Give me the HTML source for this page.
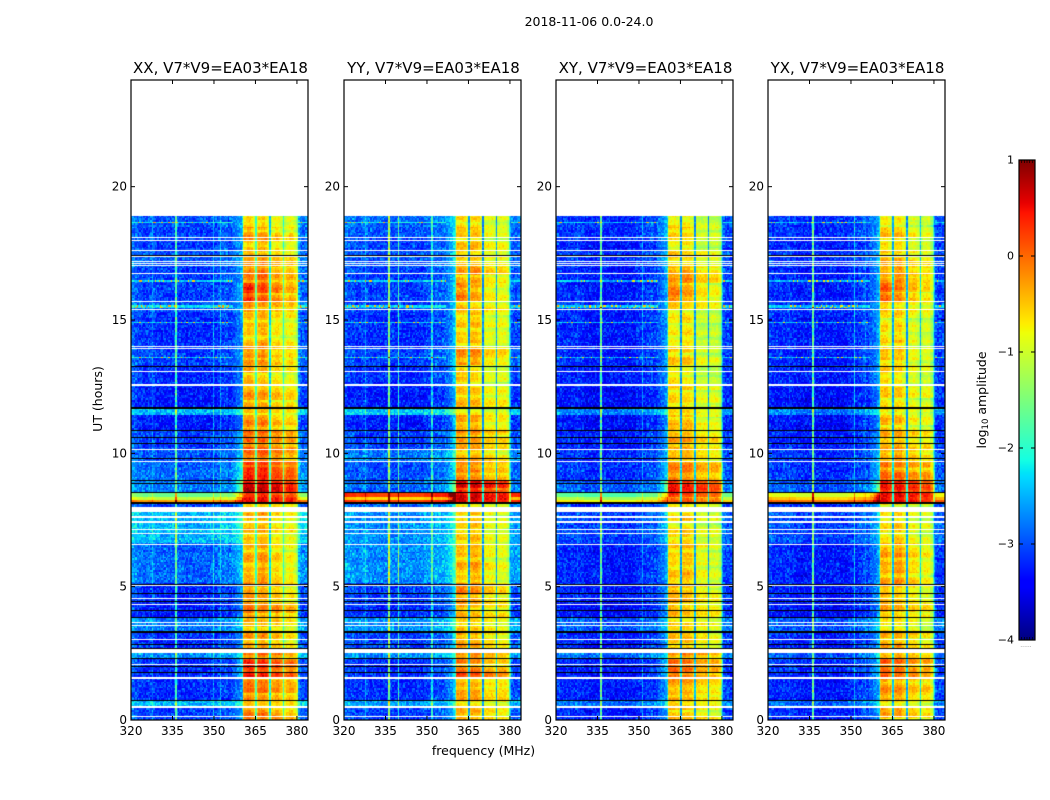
<!DOCTYPE html>
<html lang="en">
<head>
<meta charset="utf-8">
<title>2018-11-06 0.0-24.0</title>
<style>
  html, body { margin: 0; padding: 0; background: #fff; }
  body { width: 1050px; height: 800px; overflow: hidden; position: relative; font-family: "DejaVu Sans", "Liberation Sans", sans-serif; }
  canvas { position: absolute; display: block; }
  svg { position: absolute; left: 0; top: 0; }
  text { font-family: "DejaVu Sans", "Liberation Sans", sans-serif; fill: #000; }
</style>
</head>
<body>
<div id="plots"></div>
<svg id="chart" width="1050" height="800" viewBox="0 0 1050 800"></svg>
<script>
// ---- labels and ticks ----
const figureTitle = "2018-11-06 0.0-24.0";
const panelTitles = ["XX, V7*V9=EA03*EA18", "YY, V7*V9=EA03*EA18", "XY, V7*V9=EA03*EA18", "YX, V7*V9=EA03*EA18"];
const xTickValues = [320, 335, 350, 365, 380];
const yTickValues = [0, 5, 10, 15, 20];
const colorTickValues = [1, 0, -1, -2, -3, -4];

// ---- time blocks: lower edge of each block in UT hours (top block begins at dataTopHour) ----
const dataTopHour = 18.9;
const blockStarts = [18.5,18.0,17.6,17.4,17.0,16.4,15.7,15.3,14.0,13.3,12.5,11.7,11.45,10.9,10.1,9.7,9.0,8.5,8.36,8.28,8.15,7.8,6.6,5.1,4.4,3.8,3.3,2.65,2.3,1.8,1.6,0.75,0.5,0.15,0];

// ---- block level offsets (tenths of log10 amplitude): outside the bright band / inside it ----
const xxLow  = [1,0,0,1,1,0,0,1,-1,0,-1,-2,6,-2,0,1,2,3,15,20,28,0,6,2,-1,-2,3,-1,4,-1,-1,-1,6,0,0];
const xxBand = [1,3,2,3,3,5,7,4,2,4,2,3,2,4,6,6,9,13,12,12,11,1,2,2,3,5,2,3,6,8,10,5,2,4,5];
const yyLow  = [2,1,0,1,1,0,0,0,-1,0,-1,-2,7,-2,0,3,1,2,33,25,33,2,4,4,0,-1,4,0,4,-1,-1,-1,5,0,0];
const yyBand = [1,2,2,2,2,3,3,2,2,4,1,2,1,3,4,3,5,12,14,14,14,1,2,2,4,3,2,3,5,5,7,3,2,3,4];
const xyLow  = [0,0,-1,0,0,-1,-1,0,-1,-1,-1,-2,4,-2,-1,0,0,2,14,19,24,0,1,-1,-1,-2,2,-1,3,-1,-1,-1,3,-1,-1];
const xyBand = [1,2,1,2,2,4,5,2,1,2,1,2,1,3,4,4,6,12,10,10,10,1,2,2,3,4,2,3,5,7,8,4,2,3,4];
const yxLow  = [0,0,-1,0,0,-1,-1,0,-1,-1,-1,-2,4,-2,-1,0,0,2,22,26,31,0,1,-1,-1,-2,2,-1,2,0,-1,-1,3,-1,-1];
const yxBand = [0,2,1,2,2,4,5,2,1,2,1,1,1,2,3,4,6,12,13,12,12,1,1,3,2,3,1,3,4,6,7,4,1,3,3];

// per-block shift of each of the four band segments (tenths of log10 amplitude)
const bandSegmentShift = [
[0,0,-1,-1],[1,1,-1,-1],[0,1,-1,-1],[1,0,0,-1],[1,1,0,0],[1,2,0,0],[3,1,-1,-2],[1,0,0,0],[0,1,-1,-1],
[1,1,-1,-1],[1,0,-1,-1],[1,1,0,0],[0,0,0,0],[1,1,-1,-1],[1,1,0,0],[0,1,0,-1],[1,1,0,0],[1,1,1,0],
[0,0,0,0],[0,0,0,0],[0,0,0,0],[0,0,0,0],[0,1,-1,-1],[1,2,0,-1],[2,1,0,-1],[1,0,0,0],[0,0,0,-1],
[1,1,0,-1],[0,1,1,0],[2,1,0,0],[2,1,1,0],[1,1,0,0],[0,0,0,0],[1,1,0,-1],[1,0,1,0]];

// ---- channel spectra, 0.5 MHz bins from 320 MHz (tenths of log10 amplitude) ----
const xxSpectrum = [
-28,-28,-29,-29,-30,-30,-30,-30,-30,-31,
-31,-31,-30,-30,-30,-27,-30,-31,-31,-31,
-31,-31,-31,-31,-31,-31,-31,-31,-31,-31,
-31,-31,-18,-30,-31,-31,-31,-31,-31,-31,
-32,-31,-31,-31,-31,-31,-31,-31,-31,-31,
-31,-31,-31,-31,-31,-31,-31,-31,-31,-25,
-31,-31,-30,-30,-25,-30,-30,-29,-29,-29,
-31,-30,-30,-29,-29,-28,-28,-27,-27,-26,
-24,-10,-8,-8,-7,-7,-7,-8,-9,-11,
-20,-10,-8,-8,-7,-7,-7,-8,-9,-12,
-24,-11,-9,-9,-8,-8,-8,-9,-10,-12,
-21,-12,-10,-10,-9,-9,-9,-10,-11,-13,
-15,-26,-28,-29,-29,-29,-29,-28];
const yySpectrum = [
-29,-29,-30,-30,-30,-30,-30,-30,-30,-31,
-31,-31,-30,-30,-30,-26,-30,-31,-31,-31,
-31,-31,-31,-31,-31,-31,-31,-31,-31,-31,
-31,-31,-14,-30,-31,-31,-31,-31,-31,-19,
-31,-31,-31,-31,-31,-31,-31,-31,-31,-31,
-31,-31,-31,-31,-31,-31,-31,-31,-30,-30,
-30,-30,-30,-21,-30,-30,-29,-29,-29,-29,
-30,-29,-29,-28,-28,-27,-27,-26,-25,-23,
-20,-9,-8,-8,-8,-8,-8,-9,-10,-12,
-27,-10,-8,-8,-8,-8,-8,-9,-10,-12,
-28,-11,-10,-10,-10,-10,-10,-10,-11,-13,
-27,-11,-10,-10,-10,-10,-10,-11,-12,-21,
-27,-29,-30,-30,-30,-30,-29,-29];
const xySpectrum = [
-30,-30,-30,-31,-31,-31,-31,-31,-31,-31,
-31,-31,-31,-31,-31,-29,-31,-31,-31,-31,
-32,-32,-32,-32,-32,-32,-32,-32,-32,-32,
-32,-32,-16,-31,-32,-32,-32,-32,-32,-32,
-32,-32,-32,-32,-32,-32,-32,-32,-32,-32,
-32,-32,-32,-32,-32,-32,-32,-32,-31,-31,
-31,-31,-25,-31,-31,-30,-30,-30,-30,-29,
-31,-30,-30,-29,-28,-28,-27,-27,-26,-25,
-22,-10,-9,-9,-9,-9,-9,-10,-10,-12,
-27,-10,-9,-9,-9,-9,-9,-10,-11,-12,
-27,-11,-10,-11,-11,-11,-11,-11,-11,-13,
-27,-12,-11,-11,-11,-11,-11,-12,-13,-19,
-28,-29,-30,-30,-30,-30,-30,-29];
const yxSpectrum = [
-30,-30,-30,-31,-31,-31,-31,-31,-31,-31,
-31,-31,-31,-31,-31,-29,-31,-31,-31,-31,
-32,-32,-32,-32,-32,-32,-32,-32,-32,-32,
-32,-32,-16,-31,-32,-32,-32,-32,-32,-32,
-32,-32,-32,-32,-32,-32,-32,-32,-32,-32,
-32,-32,-32,-32,-32,-32,-32,-32,-31,-31,
-31,-31,-23,-31,-31,-30,-30,-30,-30,-29,
-27,-30,-30,-29,-28,-28,-27,-27,-26,-25,
-22,-10,-8,-8,-8,-8,-8,-10,-10,-12,
-26,-10,-8,-8,-8,-8,-8,-10,-11,-12,
-27,-11,-9,-10,-9,-9,-10,-10,-11,-13,
-25,-12,-10,-10,-10,-10,-10,-12,-13,-20,
-28,-29,-30,-30,-30,-30,-30,-29];

// channels next to the band pick up the excess of strong band levels (first shoulder channel = 74)
const shoulderWeights = [0.1, 0.2, 0.3, 0.5, 0.7, 0.8, 0.9];
// narrow notches between the four band segments, channel numbers
const notchChannels = [90, 100, 110];

// ---- flagged intervals in UT hours [from, to] ----
const whiteFlags = [[18.07,18.12],[17.97,18.02],[17.6,17.65],[17.36,17.4],[17.17,17.22],[17.1,17.14],[17.0,17.05],[16.72,16.77],[15.67,15.72],[15.36,15.42],[14.0,14.05],[13.92,13.97],[13.05,13.1],[12.53,12.6],[10.12,10.17],[9.66,9.71],[7.8,7.98],[7.57,7.64],[7.38,7.45],[7.12,7.17],[6.98,7.03],[6.56,6.61],[5.03,5.09],[4.53,4.58],[4.32,4.37],[3.62,3.66],[3.54,3.58],[3.0,3.05],[2.5,2.65],[2.07,2.11],[1.53,1.63],[0.44,0.54],[0.1,0.16]];
const blackFlags = [[17.4,17.45],[13.22,13.27],[11.66,11.74],[10.84,10.9],[10.57,10.61],[10.34,10.38],[9.78,9.82],[8.97,9.01],[8.84,8.88],[8.5,8.54],[8.08,8.17],[5.08,5.12],[4.72,4.76],[4.42,4.46],[4.08,4.12],[3.82,3.86],[3.28,3.35],[2.81,2.85],[2.65,2.68],[2.3,2.34],[1.98,2.02],[1.76,1.8],[0.71,0.75]];

// rows with narrowband interference speckle, UT hours
const spurHours = [18.65, 18.5, 16.47, 15.55, 15.45, 14.9, 13.62];

// fixed residual tables (tenths of log10 amplitude) estimated from the speckled texture
const speckleResiduals = [
-3,1,-2,4,0,-4,2,-1,5,-3,0,3,-2,-4,1,6,-1,2,-3,0,
4,-2,-3,1,3,-4,0,2,-1,5,-2,-3,7,0,-1,3,-4,1,-2,2,
0,-3,4,-1,-2,5,1,-4,0,3,-2,-1,2,-3,6,0,-4,1,3,-2,
-1,4,-3,0,2,-5,1,-2,3,0,5,-3,-1,2,-4,0,4,-2,1,-3,
3,-1,-4,2,0,6,-2,-3,1,4,-1,0,-4,2,-2,3,-3,1,0,-1,5];
const bandRowRipple = [1,1,2,2,1,0,-1,-2,0,1,1,1,0,0,-1,-3,1,2,2,1,1,1,1,0,-2,0,1,0,-1,-1,0,1,2,2,2,1,-1,-3,-1,1,1,0,0,0,1,1,-1,-2,0,2,2,1,0,0,-1,-2,1,1,1,2,1,0,-1,-3];

// ---- colormap stops (jet) ----
const jetRed   = [[0,0],[0.35,0],[0.66,1],[0.89,1],[1,0.5]];
const jetGreen = [[0,0],[0.125,0],[0.375,1],[0.64,1],[0.91,0],[1,0]];
const jetBlue  = [[0,0.5],[0.11,1],[0.34,1],[0.65,0],[1,0]];

const panelLows = [xxLow, yyLow, xyLow, yxLow];
const panelBands = [xxBand, yyBand, xyBand, yxBand];
const panelSpectra = [xxSpectrum, yySpectrum, xySpectrum, yxSpectrum];

// ---- layout ----
const axisLefts = [131, 344, 556, 768];
const axisWidth = 177, axisTop = 80, axisHeight = 640;
const freqMin = 320, freqMax = 384, hourMax = 24;
const channelWidthMHz = 0.5, rowHours = 0.0625;
const cbLeft = 1019, cbWidth = 16, cbTop = 160, cbHeight = 480, cbMin = -4, cbMax = 1;
const svg = document.getElementById('chart');
const plots = document.getElementById('plots');
const NS = 'http://www.w3.org/2000/svg';

function xScale(mhz) { return (mhz - freqMin) / (freqMax - freqMin) * axisWidth; }
function yScale(h) { return axisHeight - h / hourMax * axisHeight; }
function cbScale(v) { return cbTop + (cbMax - v) / (cbMax - cbMin) * cbHeight; }
function ramp(stops, t) {
  for (let i = 1; i < stops.length; i++) {
    if (t <= stops[i][0]) {
      const a = stops[i - 1], b = stops[i];
      return a[1] + (b[1] - a[1]) * (t - a[0]) / (b[0] - a[0]);
    }
  }
  return stops[stops.length - 1][1];
}
function jet(v) {
  const t = Math.max(0, Math.min(1, (v - cbMin) / (cbMax - cbMin)));
  return 'rgb(' + Math.round(ramp(jetRed, t) * 255) + ',' + Math.round(ramp(jetGreen, t) * 255) + ',' + Math.round(ramp(jetBlue, t) * 255) + ')';
}
function blockIndex(h) {
  for (let i = 0; i < blockStarts.length; i++) if (h >= blockStarts[i]) return i;
  return blockStarts.length - 1;
}
function cellValue(p, c, r, h) {
  const b = blockIndex(h);
  const low = panelLows[p][b], band = panelBands[p][b];
  const spec = panelSpectra[p][c];
  const resid = speckleResiduals[(c * (1 + r % 7) + r * 13 + p * 29) % speckleResiduals.length];
  const ripple = bandRowRipple[(r + p * 5) % bandRowRipple.length];
  let tenths;
  if (notchChannels.includes(c)) {
    tenths = spec + band * 0.5 + resid * 0.4;
  } else if (c > 80 && c <= 120) {
    const seg = Math.min(3, Math.floor((c - 81) / 10));
    tenths = spec + band + bandSegmentShift[b][seg] + resid * 0.35 + ripple;
  } else if (c >= 74 && c <= 80) {
    const w = shoulderWeights[c - 74];
    tenths = spec + low + Math.max(0, band - 5) * w + resid * 0.6;
  } else {
    let spur = 0;
    for (const s of spurHours) if (Math.abs(s - h) < rowHours / 2) spur = resid >= 4 ? 22 : 8;
    tenths = spec + low + (low > 10 ? resid * 0.1 : resid * 0.75 + ripple * 0.2) + spur;
  }
  return tenths / 10;
}
function drawHeatmap(p) {
  const cv = document.createElement('canvas');
  
  
  cv.width = axisWidth;
  cv.height = axisHeight;
  cv.style.left = axisLefts[p] + 'px';
  cv.style.top = axisTop + 'px';
  const ctx = cv.getContext('2d');
  const spec = panelSpectra[p];
  for (let r = 0; r * rowHours < dataTopHour; r++) {
    const h0 = r * rowHours, h1 = Math.min(dataTopHour, h0 + rowHours);
    const y0 = Math.round(yScale(h1)), y1 = Math.round(yScale(h0));
    for (let c = 0; c < spec.length; c++) {
      const x0 = Math.round(xScale(freqMin + c * channelWidthMHz));
      const x1 = Math.round(xScale(freqMin + (c + 1) * channelWidthMHz));
      ctx.fillStyle = jet(cellValue(p, c, r, (h0 + h1) / 2));
      ctx.fillRect(x0, y0, x1 - x0, y1 - y0);
    }
  }
  function flag(list, color) {
    ctx.fillStyle = color;
    for (const f of list) {
      const span = yScale(f[0]) - yScale(f[1]);
      const thick = Math.max(1, Math.round(span - 0.2));
      const y = Math.round((yScale(f[0]) + yScale(f[1])) / 2 - thick / 2);
      ctx.fillRect(0, y, axisWidth, thick);
    }
  }
  flag(blackFlags, '#000');
  flag(whiteFlags, '#fff');
  plots.appendChild(cv);
}

panelTitles.forEach((title, p) => {
  drawHeatmap(p);
  const left = axisLefts[p];
  const key = title.slice(0, 2).toLowerCase();

  const g = document.createElementNS(NS, 'g');
  
  
  svg.appendChild(g);

  const frame = document.createElementNS(NS, 'rect');
  
  
  frame.setAttribute('x', left);
  frame.setAttribute('y', axisTop);
  frame.setAttribute('width', axisWidth);
  frame.setAttribute('height', axisHeight);
  frame.setAttribute('fill', 'none');
  frame.setAttribute('stroke', '#000');
  frame.setAttribute('stroke-width', '1.2');
  g.appendChild(frame);

  const t = document.createElementNS(NS, 'text');
  
  
  t.setAttribute('x', left + axisWidth / 2 + 1);
  t.setAttribute('y', 73);
  t.setAttribute('text-anchor', 'middle');
  t.setAttribute('font-size', '15');
  t.textContent = title;
  g.appendChild(t);

  xTickValues.forEach(v => {
    const x = left + xScale(v);
    [[axisTop, axisTop + 4], [axisTop + axisHeight - 4, axisTop + axisHeight]].forEach(pair => {
      const tick = document.createElementNS(NS, 'line');
      
      
      tick.setAttribute('x1', x);
      tick.setAttribute('x2', x);
      tick.setAttribute('y1', pair[0]);
      tick.setAttribute('y2', pair[1]);
      tick.setAttribute('stroke', '#000');
      g.appendChild(tick);
    });
    const label = document.createElementNS(NS, 'text');
    
    
    label.setAttribute('x', x);
    label.setAttribute('y', 735);
    label.setAttribute('text-anchor', 'middle');
    label.setAttribute('font-size', '12');
    label.textContent = v;
    g.appendChild(label);
  });

  yTickValues.forEach(v => {
    const y = axisTop + yScale(v);
    [[left, left + 4], [left + axisWidth - 4, left + axisWidth]].forEach(pair => {
      const tick = document.createElementNS(NS, 'line');
      
      
      tick.setAttribute('x1', pair[0]);
      tick.setAttribute('x2', pair[1]);
      tick.setAttribute('y1', y);
      tick.setAttribute('y2', y);
      tick.setAttribute('stroke', '#000');
      g.appendChild(tick);
    });
    const label = document.createElementNS(NS, 'text');
    
    
    label.setAttribute('x', left - 4);
    label.setAttribute('y', y + 4);
    label.setAttribute('text-anchor', 'end');
    label.setAttribute('font-size', '12');
    label.textContent = v;
    g.appendChild(label);
  });
});

// ---- figure-level text ----
const supTitle = document.createElementNS(NS, 'text');


supTitle.setAttribute('x', 589);
supTitle.setAttribute('y', 26);
supTitle.setAttribute('text-anchor', 'middle');
supTitle.setAttribute('font-size', '12.5');
supTitle.textContent = figureTitle;
svg.appendChild(supTitle);

const xTitle = document.createElementNS(NS, 'text');


xTitle.setAttribute('x', 483.5);
xTitle.setAttribute('y', 755);
xTitle.setAttribute('text-anchor', 'middle');
xTitle.setAttribute('font-size', '12.5');
xTitle.textContent = 'frequency (MHz)';
svg.appendChild(xTitle);

const yTitle = document.createElementNS(NS, 'text');


yTitle.setAttribute('transform', 'translate(102,399) rotate(-90)');
yTitle.setAttribute('text-anchor', 'middle');
yTitle.setAttribute('font-size', '12.5');
yTitle.textContent = 'UT (hours)';
svg.appendChild(yTitle);

// ---- colorbar ----
const cbGroup = document.createElementNS(NS, 'g');


svg.appendChild(cbGroup);

for (let py = 0; py < cbHeight; py++) {
  const v = cbMax - (py + 0.5) / cbHeight * (cbMax - cbMin);
  const seg = document.createElementNS(NS, 'rect');
  
  
  seg.setAttribute('x', cbLeft);
  seg.setAttribute('y', cbTop + py);
  seg.setAttribute('width', cbWidth);
  seg.setAttribute('height', 1);
  seg.setAttribute('fill', jet(v));
  cbGroup.appendChild(seg);
}
const cbFrame = document.createElementNS(NS, 'rect');


cbFrame.setAttribute('x', cbLeft);
cbFrame.setAttribute('y', cbTop);
cbFrame.setAttribute('width', cbWidth);
cbFrame.setAttribute('height', cbHeight);
cbFrame.setAttribute('fill', 'none');
cbFrame.setAttribute('stroke', '#000');
cbFrame.setAttribute('stroke-width', '1.2');
cbGroup.appendChild(cbFrame);

colorTickValues.forEach(v => {
  const y = cbScale(v);
  [[cbLeft, cbLeft + 4], [cbLeft + cbWidth - 4, cbLeft + cbWidth]].forEach(pair => {
    const tick = document.createElementNS(NS, 'line');
    
    
    tick.setAttribute('x1', pair[0]);
    tick.setAttribute('x2', pair[1]);
    tick.setAttribute('y1', y);
    tick.setAttribute('y2', y);
    tick.setAttribute('stroke', '#000');
    cbGroup.appendChild(tick);
  });
  const label = document.createElementNS(NS, 'text');
  
  
  label.setAttribute('x', 1014);
  label.setAttribute('y', y + 3.5);
  label.setAttribute('text-anchor', 'end');
  label.setAttribute('font-size', '11');
  label.textContent = String(v).replace('-', '\u2212');
  cbGroup.appendChild(label);
});

for (let i = 1; i < 6; i++) {
  [[cbTop, cbTop + 3], [cbTop + cbHeight - 3, cbTop + cbHeight]].forEach(pair => {
    const tooth = document.createElementNS(NS, 'line');
    
    
    tooth.setAttribute('x1', cbLeft + i * cbWidth / 6);
    tooth.setAttribute('x2', cbLeft + i * cbWidth / 6);
    tooth.setAttribute('y1', pair[0]);
    tooth.setAttribute('y2', pair[1]);
    tooth.setAttribute('stroke', '#000');
    tooth.setAttribute('stroke-width', '0.7');
    cbGroup.appendChild(tooth);
  });
}

const cbDots = document.createElementNS(NS, 'text');


cbDots.setAttribute('x', 1026);
cbDots.setAttribute('y', 647);
cbDots.setAttribute('text-anchor', 'middle');
cbDots.setAttribute('font-size', '6');
cbDots.setAttribute('style', 'fill:#888');
cbDots.textContent = '......';
cbGroup.appendChild(cbDots);

const cbTitle = document.createElementNS(NS, 'text');


cbTitle.setAttribute('transform', 'translate(986,400) rotate(-90)');
cbTitle.setAttribute('text-anchor', 'middle');
cbTitle.setAttribute('font-size', '12.5');
cbTitle.appendChild(document.createTextNode('log'));
const cbSub = document.createElementNS(NS, 'tspan');
cbSub.setAttribute('dy', '2');
cbSub.setAttribute('font-size', '8.5');
cbSub.textContent = '10';
cbTitle.appendChild(cbSub);
const cbRest = document.createElementNS(NS, 'tspan');
cbRest.setAttribute('dy', '-2');
cbRest.textContent = ' amplitude';
cbTitle.appendChild(cbRest);
cbGroup.appendChild(cbTitle);
</script>
</body>
</html>
